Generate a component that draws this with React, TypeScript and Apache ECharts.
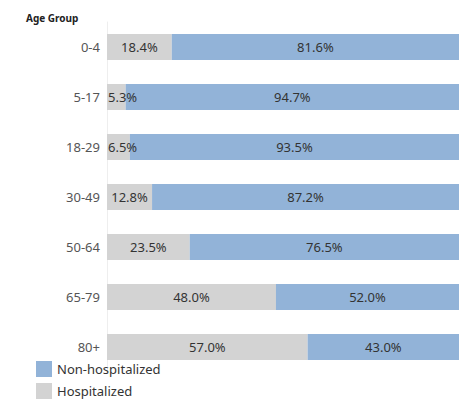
import React, { useEffect, useRef } from "react";
import * as echarts from "echarts";

const categories = ["0-4", "5-17", "18-29", "30-49", "50-64", "65-79", "80+"];
const hospitalized = [18.4, 5.3, 6.5, 12.8, 23.5, 48.0, 57.0];
const nonHospitalized = [81.6, 94.7, 93.5, 87.2, 76.5, 52.0, 43.0];

export default function App() {
  const ref = useRef<HTMLDivElement>(null);
  useEffect(() => {
    const chart = echarts.init(ref.current!, null, { renderer: "svg" });
    const font = "'Noto Sans', sans-serif";
    const lbl = (v: number) => ({
      show: true,
      position: v < 10 ? "insideLeft" : "inside",
      distance: 1,
      color: "#333",
      fontSize: 13,
      fontFamily: font,
      formatter: (p: any) => p.value.toFixed(1) + "%",
    });
    chart.setOption({
      animation: false,
      title: { text: "Age Group", left: 21, top: 8, textStyle: { fontSize: 10, fontWeight: "bold", color: "#222", fontFamily: font } },
      grid: { left: 107, right: 7, top: 22, height: 350 },
      xAxis: { type: "value", min: 0, max: 100, show: false },
      yAxis: {
        type: "category",
        data: categories,
        inverse: true,
        axisLine: { show: true, lineStyle: { color: "#eee" } },
        axisTick: { show: false },
        axisLabel: { color: "#555", fontSize: 13, fontFamily: font, margin: 7 },
      },
      legend: {
        orient: "vertical",
        left: 36,
        top: 361,
        padding: 0,
        itemWidth: 16,
        itemHeight: 16,
        itemGap: 6,
        icon: "rect",
        data: ["Non-hospitalized", "Hospitalized"],
        textStyle: { fontSize: 13, color: "#333", fontFamily: font },
      },
      series: [
        {
          name: "Hospitalized",
          type: "bar",
          stack: "a",
          barWidth: 26,
          itemStyle: { color: "#d3d3d3" },
          data: hospitalized.map((v) => ({ value: v, label: lbl(v) })),
        },
        {
          name: "Non-hospitalized",
          type: "bar",
          stack: "a",
          barWidth: 26,
          itemStyle: { color: "#92b3d8" },
          data: nonHospitalized.map((v) => ({ value: v, label: lbl(v) })),
        },
      ],
    });
    return () => chart.dispose();
  }, []);
  return <div ref={ref} style={{ width: 466, height: 401, position: "absolute", left: 0, top: 0 }} />;
}
